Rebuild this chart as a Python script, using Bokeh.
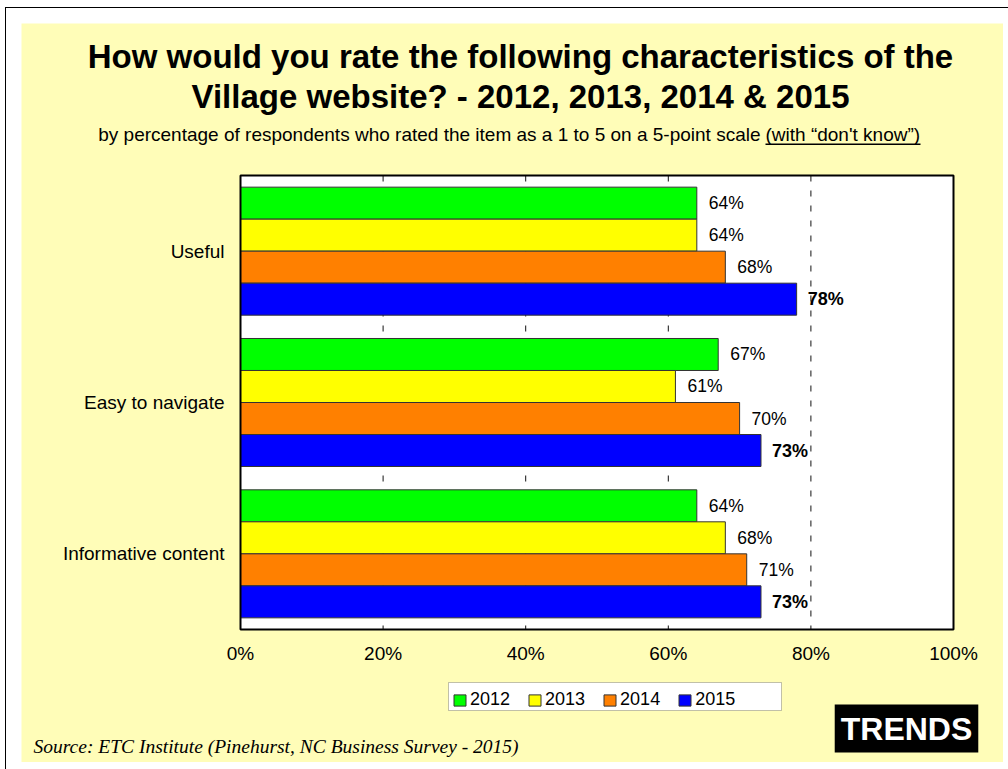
from bokeh.plotting import figure
from bokeh.models import (Range1d, Label, Legend, LegendItem, ColumnDataSource, BoxAnnotation)
from bokeh.layouts import column
from bokeh.core.properties import value
from bokeh.embed import file_html
from bokeh.resources import INLINE

# ---------------- data ----------------
categories = ["Useful", "Easy to navigate", "Informative content"]
years = ["2012", "2013", "2014", "2015"]
v2012 = [64, 67, 64]
v2013 = [64, 61, 68]
v2014 = [68, 70, 71]
v2015 = [78, 73, 73]
x_ticks = [0, 20, 40, 60, 80, 100]
x_tick_labels = ["0%", "20%", "40%", "60%", "80%", "100%"]

series = [v2012, v2013, v2014, v2015]
colors = ["#00FF00", "#FFFF00", "#FF8000", "#0000FF"]

BG = "#FFFDB8"
FONT = "Liberation Sans"

# page geometry: yellow panel = page x 21..1003, y 23..762
# plot area (white) = page x 240..953, y 175..629
PX0, PX1, PY0, PY1 = 240, 953, 175, 629
ncat = len(categories)


def xpx(px):
    return (px - PX0) / (PX1 - PX0) * (x_ticks[-1] - x_ticks[0]) + x_ticks[0]


def ypx(py):
    return (py - PY0) / (PY1 - PY0) * ncat


FIG_W, FIG_H = 982, 739
p = figure(width=FIG_W, height=FIG_H, output_backend="svg", toolbar_location=None,
           x_range=Range1d(xpx(21), xpx(1003)), y_range=Range1d(ypx(762), ypx(23)),
           x_axis_location=None, y_axis_location=None)
p.min_border = 0
p.min_border_left = p.min_border_right = p.min_border_top = p.min_border_bottom = 0
p.background_fill_color = BG
p.border_fill_color = BG
p.outline_line_color = None
p.xgrid.visible = False
p.ygrid.visible = False

# white plot area
p.quad(left=x_ticks[0], right=x_ticks[-1], top=0, bottom=ncat,
       fill_color="white", line_color=None)

# dashed vertical gridlines
gx = x_ticks[1:-1]
p.segment(x0=gx, y0=[0] * len(gx), x1=gx, y1=[ncat] * len(gx),
          line_color="#111111", line_width=1, line_dash="6 9")

# bars
h = 0.2115
renderers = []
for j, (vals, col, yr) in enumerate(zip(series, colors, years)):
    ys = [i + 0.5 + (j - 1.5) * h for i in range(ncat)]
    src = ColumnDataSource(dict(y=ys, right=vals, lab=[f"{v}%" for v in vals]))
    r = p.hbar(y="y", left=0, right="right", height=h, source=src,
               fill_color=col, line_color="#333333", line_width=1)
    renderers.append((yr, r))
    p.text(x="right", y="y", text="lab", source=src, x_offset=12 if j < 3 else 11,
           text_align="left", text_baseline="middle",
           text_font=value(FONT),
           text_font_size="18px" if j == 3 else "17.5px",
           text_font_style="bold" if j == 3 else "normal",
           text_color="black")

# plot-area outline
p.quad(left=x_ticks[0], right=x_ticks[-1], top=0, bottom=ncat,
       fill_color=None, line_color="black", line_width=2)

# x tick labels
p.text(x=x_ticks, y=[ncat] * len(x_ticks), text=x_tick_labels, y_offset=24,
       text_align="center", text_baseline="middle", text_font=value(FONT),
       text_font_size="19px", text_color="black")

# category labels
p.text(x=[x_ticks[0]] * ncat, y=[i + 0.5 for i in range(ncat)], text=categories,
       x_offset=-16, text_align="right", text_baseline="middle",
       text_font=value(FONT), text_font_size="19px", text_color="black")

# legend box + legend
p.add_layout(BoxAnnotation(left=xpx(448), right=xpx(781), top=ypx(682), bottom=ypx(710),
                           fill_color="white", fill_alpha=1,
                           line_color="#333333", line_width=1))
legend = Legend(items=[LegendItem(label=yr, renderers=[r]) for yr, r in renderers],
                orientation="horizontal", location=(431, 52))
legend.label_text_font = FONT
legend.label_text_font_size = "18px"
legend.label_text_color = "black"
legend.glyph_width = 15
legend.glyph_height = 14
legend.label_standoff = 3
legend.spacing = 17
legend.padding = 4
legend.margin = 0
legend.border_line_color = None
legend.background_fill_alpha = 0
p.add_layout(legend, "center")

# titles
for txt, my in [("How would you rate the following characteristics of the", 56),
                ("Village website? - 2012, 2013, 2014 & 2015", 96)]:
    p.add_layout(Label(x=xpx(520), y=ypx(my), text=txt,
                       text_align="center", text_baseline="middle",
                       text_font=FONT, text_font_size="33px", text_font_style="bold",
                       text_color="black"))

p.add_layout(Label(x=xpx(760), y=ypx(133.5),
                   text="by percentage of respondents who rated the item as a 1 to 5 on a 5-point scale",
                   text_align="right", text_baseline="middle",
                   text_font=FONT, text_font_size="19px", text_color="black"))
p.add_layout(Label(x=xpx(765), y=ypx(133.5),
                   text="(with \u201cdon't know\u201d)",
                   text_align="left", text_baseline="middle",
                   text_font=FONT, text_font_size="19px", text_color="black"))
p.add_layout(BoxAnnotation(left=xpx(765), right=xpx(920), top=ypx(143), bottom=ypx(144.5),
                           fill_color="black", fill_alpha=1, line_color=None))

p.add_layout(Label(x=xpx(33), y=ypx(746),
                   text="Source:  ETC Institute (Pinehurst, NC Business Survey - 2015)",
                   text_align="left", text_baseline="middle",
                   text_font="Liberation Serif", text_font_size="19.5px",
                   text_font_style="italic", text_color="black"))

p.add_layout(Label(x=xpx(906), y=ypx(728), text="TRENDS",
                   text_align="center", text_baseline="middle",
                   text_font=FONT, text_font_size="32px", text_font_style="bold",
                   text_color="white", background_fill_color="black",
                   background_fill_alpha=1, padding=6))

p.margin = (15, 5, 7, 15)
root = column(p)
root.margin = (7, 0, 0, 5)
root.styles = {"border-top": "1px solid black", "border-left": "1px solid black",
               "background-color": "white"}

open("out.html", "w").write(file_html(root, INLINE))
